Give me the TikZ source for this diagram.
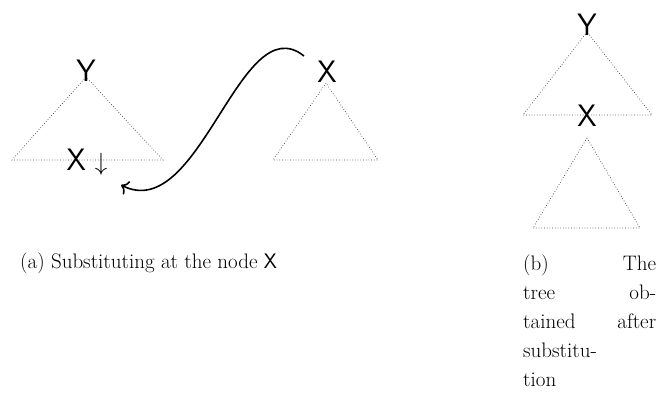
\documentclass[tikz,border=0pt]{standalone}
\usetikzlibrary{arrows.meta}
\begin{document}
\begin{tikzpicture}[x=1pt,y=-1pt,
  tri/.style={dotted, line width=0.7pt, black!75},
  lab/.style={font=\sffamily\fontsize{31}{33}\selectfont, inner sep=0pt},
  captext/.style={font=\fontsize{21}{29}\selectfont, inner sep=0pt, anchor=base west},
  conn/.style={line width=1.6pt, -{To[length=7pt,width=15pt]}}]
\useasboundingbox (0,0) rectangle (657,394);
% (a) left tree
\coordinate (la) at (86,77);
\coordinate (ll) at (12,160);
\coordinate (lr) at (163,160);
\draw[tri] (la) -- (ll) -- (lr) -- cycle;
\node[lab] (Y1) at (86,71) {Y};
\node[lab] (X1) at (87,162) {X\hspace{9pt}$\downarrow$};
% (a) right tree
\coordinate (ra) at (326,83);
\coordinate (rl) at (273,160);
\coordinate (rr) at (378,160);
\draw[tri] (ra) -- (rl) -- (rr) -- cycle;
\node[lab] (X2) at (327,72) {X};
% substitution arrow
\coordinate (s) at (304,56);
\coordinate (e) at (121,185);
\draw[conn] (s) .. controls (240,5) and (200,225) .. (e);
% (b) combined tree
\coordinate (ba) at (587,32);
\coordinate (bl) at (523,115);
\coordinate (br) at (652,115);
\draw[tri] (ba) -- (bl) -- (br) -- cycle;
\coordinate (ca) at (587,138);
\coordinate (cl) at (533,228);
\coordinate (cr) at (640,228);
\draw[tri] (ca) -- (cl) -- (cr) -- cycle;
\node[lab] (Y3) at (587,25) {Y};
\node[lab] (X3) at (587,116) {X};
% captions
\node[captext] (capa) at (20,268) {(a) Substituting at the node \textsf{X}};
\node[captext] (capb1) at (523,270) {\hbox to 133pt{(b)\hfill The}};
\node[captext] (capb2) at (523,299) {\hbox to 133pt{tree\hfill ob-}};
\node[captext] (capb3) at (523,328) {\hbox to 133pt{tained\hfill after}};
\node[captext] (capb4) at (523,357) {substitu-};
\node[captext] (capb5) at (523,386) {tion};
\end{tikzpicture}
\end{document}
